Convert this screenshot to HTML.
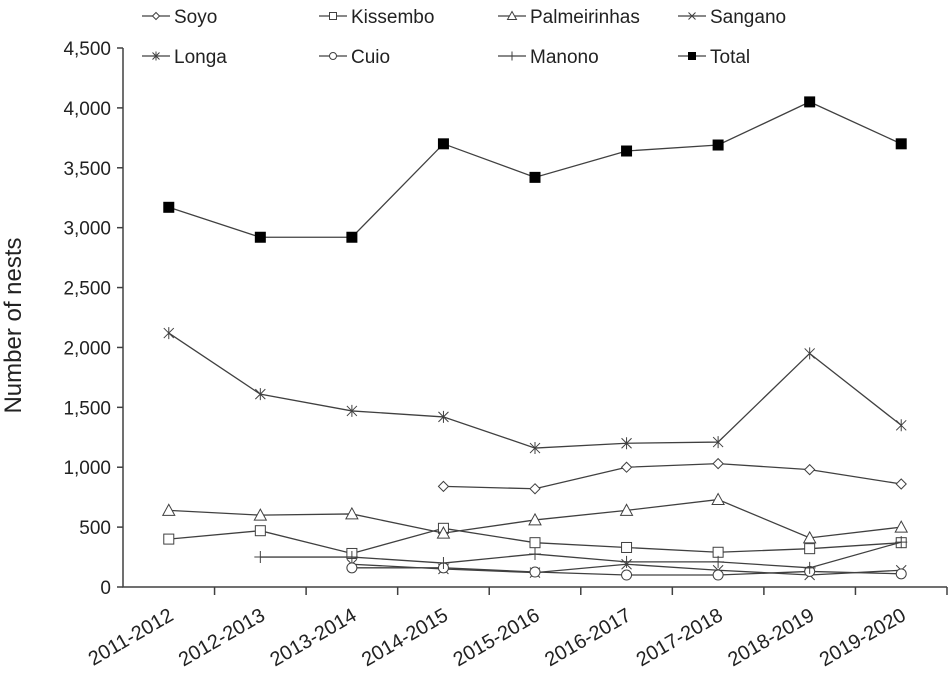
<!DOCTYPE html><html><head><meta charset="utf-8"><style>body{margin:0;background:#fff}svg{font-family:"Liberation Sans",Arial,sans-serif}</style></head><body>
<svg id="c" width="950" height="679"></svg>
<script>
const categories=["2011-2012","2012-2013","2013-2014","2014-2015","2015-2016","2016-2017","2017-2018","2018-2019","2019-2020"];
const yTicks=[0,500,1000,1500,2000,2500,3000,3500,4000,4500];
const soyo=[null,null,null,840,820,1000,1030,980,860];
const kissembo=[400,470,280,490,370,330,290,320,370];
const palmeirinhas=[640,600,610,450,560,640,730,410,500];
const sangano=[null,null,190,150,120,190,140,100,140];
const longa=[2120,1610,1470,1420,1160,1200,1210,1950,1350];
const cuio=[null,null,160,160,125,100,100,130,110];
const manono=[null,250,250,200,275,210,210,160,375];
const total=[3170,2920,2920,3700,3420,3640,3690,4050,3700];
const NS="http://www.w3.org/2000/svg",svg=document.getElementById('c');
const x0=123,x1=947,y0=587,y1=48,step=(x1-x0)/9;
const X=i=>x0+step*(i+0.5),Y=v=>y0-(v/4500)*(y0-y1);
function mk(t,a,p){const e=document.createElementNS(NS,t);for(const k in a)e.setAttribute(k,a[k]);(p||svg).appendChild(e);return e;}
const C="#404040";
let ax=mk('path',{d:`M${x0},${y1}V${y0}H${x1}`,stroke:C,fill:'none','stroke-width':1.5});


yTicks.forEach(v=>{mk('line',{x1:x0-6,x2:x0,y1:Y(v),y2:Y(v),stroke:C,'stroke-width':1.5});
 const t=mk('text',{x:x0-12,y:Y(v)+7,'text-anchor':'end','font-size':19,fill:'#222'});t.textContent=v.toLocaleString('en-US');
 
 });
for(let i=1;i<=9;i++)mk('line',{x1:x0+step*i,x2:x0+step*i,y1:y0,y2:y0+8,stroke:C,'stroke-width':1.5});
categories.forEach((c,i)=>{const t=mk('text',{transform:`translate(${X(i)+6},${y0+32}) rotate(-30)`,'text-anchor':'end','font-size':20,fill:'#222'});t.textContent=c;
 
 });
const yt=mk('text',{transform:`translate(21,${(y0+y1)/2+8}) rotate(-90)`,'text-anchor':'middle','font-size':24,fill:'#222'});yt.textContent='Number of nests';


function marker(g,type,x,y,s){s=s||5;
 if(type=='diamond')mk('path',{d:`M${x},${y-s}L${x+s},${y}L${x},${y+s}L${x-s},${y}Z`,fill:'#fff',stroke:C},g);
 else if(type=='square')mk('rect',{x:x-s,y:y-s,width:2*s,height:2*s,fill:'#fff',stroke:C},g);
 else if(type=='fsquare')mk('rect',{x:x-s,y:y-s,width:2*s,height:2*s,fill:'#000',stroke:'#000'},g);
 else if(type=='tri')mk('path',{d:`M${x},${y-s-1}L${x+s+1},${y+s}L${x-s-1},${y+s}Z`,fill:'#fff',stroke:C},g);
 else if(type=='circle')mk('circle',{cx:x,cy:y,r:s,fill:'#fff',stroke:C},g);
 else if(type=='x')mk('path',{d:`M${x-s},${y-s}L${x+s},${y+s}M${x+s},${y-s}L${x-s},${y+s}`,stroke:C},g);
 else if(type=='star')mk('path',{d:`M${x-s},${y-s}L${x+s},${y+s}M${x+s},${y-s}L${x-s},${y+s}M${x},${y-s-1}V${y+s+1}`,stroke:C},g);
 else if(type=='plus')mk('path',{d:`M${x-s-1},${y}H${x+s+1}M${x},${y-s-1}V${y+s+1}`,stroke:C},g);}
const series=[["Soyo",soyo,'diamond'],["Kissembo",kissembo,'square'],["Palmeirinhas",palmeirinhas,'tri'],["Sangano",sangano,'x'],["Longa",longa,'star'],["Cuio",cuio,'circle'],["Manono",manono,'plus'],["Total",total,'fsquare']];
series.forEach(([name,vals,m],si)=>{const g=mk('g',{});
 
 
 let d='';vals.forEach((v,i)=>{if(v==null)return;d+=(d?'L':'M')+X(i)+','+Y(v);});
 mk('path',{d,fill:'none',stroke:C,'stroke-width':1.3},g);
 vals.forEach((v,i)=>{if(v!=null)marker(g,m,X(i),Y(v));});
 const lx=[142,319,498,678][si%4],ly=si<4?16:56;
 const lg=mk('g',{});
 
 
 mk('line',{x1:lx,x2:lx+28,y1:ly,y2:ly,stroke:C,'stroke-width':1.3},lg);marker(lg,m,lx+14,ly,3.5);
 const t=mk('text',{x:lx+32,y:ly+7,'font-size':19,fill:'#222'},lg);t.textContent=name;});
</script></body></html>
